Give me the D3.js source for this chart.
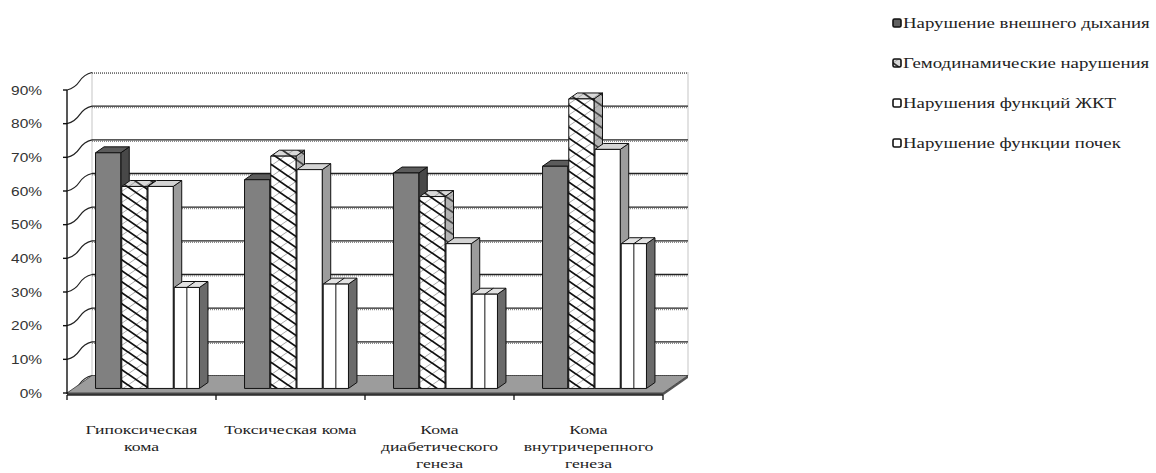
<!DOCTYPE html>
<html>
<head>
<meta charset="utf-8">
<script src="https://cdn.jsdelivr.net/npm/d3@7"></script>
<style>
  body { margin: 0; background: #fff; }
  svg { display: block; }
</style>
</head>
<body>
<svg id="chart" width="1156" height="473"></svg>
<script>
// ---- data ----
const categories = ["hypoxic", "toxic", "diabetic", "intracranial"];
const categoryLines = [
  ["Гипоксическая", "кома"],
  ["Токсическая кома"],
  ["Кома", "диабетического", "генеза"],
  ["Кома", "внутричерепного", "генеза"]
];
const seriesNames = [
  "Нарушение внешнего дыхания",
  "Гемодинамические нарушения",
  "Нарушения функций ЖКТ",
  "Нарушение функции почек"
];
const breathing   = [70, 62, 64, 66];
const hemodynamic = [60, 69, 57, 86];
const digestive   = [60, 65, 43, 71];
const renal       = [30, 31, 28, 43];
const tickValues  = [0, 10, 20, 30, 40, 50, 60, 70, 80, 90];
const tickLabels  = ["0%", "10%", "20%", "30%", "40%", "50%", "60%", "70%", "80%", "90%"];

const seriesValues = [breathing, hemodynamic, digestive, renal];

// ---- layout ----
const svg = d3.select("#chart");
const X0 = 67, X1 = 663, Y0 = 393, YTOP = 90;
const DX = 25, DY = -17.5;          // depth of the plot box
const F1 = 0.26, F2 = 0.60;         // bar front / back depth fractions
const serif = "'Liberation Serif', 'DejaVu Serif', serif";
const sans = "'Liberation Sans', 'DejaVu Sans', sans-serif";

const x = d3.scaleBand().domain(categories).range([X0, X1]);
const xs = d3.scaleBand().domain(d3.range(seriesNames.length))
  .range([0, x.bandwidth()]).paddingInner(0).paddingOuter(0.84);
const y = d3.scaleLinear().domain([0, 90]).range([Y0, YTOP]);

const P = (px, v, d) => [px + d * DX, y(v) + d * DY];
const poly = pts => pts.map(p => p.join(",")).join(" ");

// horizontal stretch so that a sample string spans the given width
function stretchFor(sample, family, size, width) {
  const t = svg.append("text").style("font-family", family).attr("font-size", size).text(sample);
  const w = t.node().getComputedTextLength();
  t.remove();
  return width / w;
}
const sansStretch = stretchFor("90%", sans, 12, 31);
const catStretch = stretchFor("Гипоксическая", serif, 13, 112);
const legendStretch = stretchFor("Нарушение внешнего дыхания", serif, 14, 247);

// ---- patterns ----
const defs = svg.append("defs");
function hatch(id, bg, main, thin) {
  const w = 16, h = 11, e = h * 3 / 16;
  const p = defs.append("pattern").attr("id", id)
    .attr("patternUnits", "userSpaceOnUse").attr("width", w).attr("height", h);
  p.append("rect").attr("width", w).attr("height", h).attr("fill", bg);
  p.append("path").attr("d", `M0,${h} L${w},0 M-3,${e} L3,${-e} M${w - 3},${h + e} L${w + 3},${h - e}`)
    .attr("stroke", thin).attr("stroke-width", 0.7);
  p.append("path").attr("d", `M0,0 L${w},${h} M-3,${h - e} L3,${h + e} M${w - 3},${-e} L${w + 3},${e}`)
    .attr("stroke", main).attr("stroke-width", 1.8);
}
hatch("hatchFront", "#ffffff", "#111", "#888");
hatch("hatchTop", "#d9d9d9", "#333", "#888");
hatch("hatchSide", "#b4b4b4", "#444", "#888");

const faceStyles = [
  { front: "#808080", top: "#5c5c5c", side: "#484848" },
  { front: "url(#hatchFront)", top: "url(#hatchTop)", side: "url(#hatchSide)" },
  { front: "#ffffff", top: "#d4d4d4", side: "#9c9c9c" },
  { front: "#ffffff", top: "#e2e2e2", side: "#6a6a6a" }
];

// ---- back wall ----
const wall = svg.append("g");
wall.append("polygon")
  .attr("points", poly([P(X0, 0, 1), P(X1, 0, 1), P(X1, 90, 1), P(X0, 90, 1)]))
  .attr("fill", "#fff").attr("stroke", "#8a8a8a").attr("stroke-width", 1)
  .attr("stroke-dasharray", "1,1");

// gridlines on the back wall
tickValues.filter(t => t > 0 && t < 90).forEach(t => {
  const a = P(X0, t, 1), b = P(X1, t, 1);
  wall.append("line").attr("x1", a[0]).attr("y1", a[1] + 1.5).attr("x2", b[0]).attr("y2", b[1] + 1.5)
    .attr("stroke", "#8a8a8a").attr("stroke-width", 1.2).attr("stroke-dasharray", "1,1");
  wall.append("line").attr("x1", a[0]).attr("y1", a[1]).attr("x2", b[0]).attr("y2", b[1])
    .attr("stroke", "#222").attr("stroke-width", 1.3);
});
{
  const a = P(X0, 90, 1), b = P(X1, 90, 1);
  wall.append("line").attr("x1", a[0]).attr("y1", a[1] + 1).attr("x2", b[0]).attr("y2", b[1] + 1)
    .attr("stroke", "#777").attr("stroke-width", 1.2).attr("stroke-dasharray", "1,1");
}

// side-wall depth lines from each axis tick
tickValues.forEach(t => {
  const a = P(X0, t, 0), b = P(X0, t, 1);
  wall.append("path")
    .attr("d", `M${a[0]},${a[1]} Q${a[0] + 8},${a[1] - 2} ${(a[0] + b[0]) / 2},${(a[1] + b[1]) / 2} T${b[0]},${b[1]}`)
    .attr("fill", "none").attr("stroke", "#222").attr("stroke-width", 1.2);
});

// ---- floor ----
const floor = svg.append("g");
floor.append("polygon")
  .attr("points", poly([P(X0, 0, 0), P(X1, 0, 0), [P(X1, 0, 0)[0], Y0 + 2.5], [X0, Y0 + 2.5]]))
  .attr("fill", "#555");
floor.append("polygon")
  .attr("points", poly([P(X1, 0, 0), P(X1, 0, 1), [P(X1, 0, 1)[0], P(X1, 0, 1)[1] + 2.5], [P(X1, 0, 0)[0], Y0 + 2.5]]))
  .attr("fill", "#555");
floor.append("polygon")
  .attr("points", poly([P(X0, 0, 0), P(X1, 0, 0), P(X1, 0, 1), P(X0, 0, 1)]))
  .attr("fill", "#9c9c9c").attr("stroke", "#333").attr("stroke-width", 0.8);

// ---- axes ----
const axes = svg.append("g").attr("stroke", "#111");
axes.append("line").attr("x1", X0).attr("y1", y(0) + 1).attr("x2", X0).attr("y2", y(90))
  .attr("stroke-width", 1.4);
tickValues.forEach(t => {
  axes.append("line").attr("x1", X0 - 4).attr("y1", y(t)).attr("x2", X0).attr("y2", y(t))
    .attr("stroke-width", 1.4);
});
axes.append("line").attr("x1", X0).attr("y1", Y0 + 2).attr("x2", X1).attr("y2", Y0 + 2)
  .attr("stroke-width", 1.2);
[...categories.map(c => x(c)), X1].forEach(px => {
  axes.append("line").attr("x1", px).attr("y1", Y0 + 2).attr("x2", px).attr("y2", Y0 + 7)
    .attr("stroke-width", 1.3);
});

svg.append("g").selectAll("text").data(tickValues).join("text")
  .attr("transform", t => `translate(42,${y(t) + 4.5}) scale(${sansStretch},1)`)
  .attr("text-anchor", "end")
  .style("font-family", sans)
  .attr("font-size", 12).attr("fill", "#333")
  .text((t, i) => tickLabels[i]);

// ---- bars (drawn left to right so nearer faces overlap) ----
const bars = svg.append("g").attr("stroke", "#111").attr("stroke-width", 1).attr("stroke-linejoin", "round");
categories.forEach((c, i) => {
  seriesValues.forEach((vals, j) => {
    const v = vals[i];
    const xl = x(c) + xs(j), xr = xl + xs.bandwidth() - 1;
    const st = faceStyles[j];
    const g = bars.append("g");
    g.append("polygon").attr("fill", st.side)
      .attr("points", poly([P(xr, 0, F1), P(xr, 0, F2), P(xr, v, F2), P(xr, v, F1)]));
    g.append("polygon").attr("fill", st.top)
      .attr("points", poly([P(xl, v, F1), P(xr, v, F1), P(xr, v, F2), P(xl, v, F2)]));
    g.append("polygon").attr("fill", st.front)
      .attr("points", poly([P(xl, 0, F1), P(xr, 0, F1), P(xr, v, F1), P(xl, v, F1)]));
    if (j === 3) {
      const xm = (xl + xr) / 2;
      const a = P(xm, 0, F1), b = P(xm, v, F1), c2 = P(xm, v, F2);
      g.append("line").attr("x1", a[0]).attr("y1", a[1]).attr("x2", b[0]).attr("y2", b[1]);
      g.append("line").attr("x1", b[0]).attr("y1", b[1]).attr("x2", c2[0]).attr("y2", c2[1]);
    }
  });
});

// ---- category labels ----
const catG = svg.append("g").style("font-family", serif).attr("font-size", 13).attr("fill", "#222");
categories.forEach((c, i) => {
  categoryLines[i].forEach((line, k) => {
    catG.append("text")
      .attr("transform", `translate(${x(c) + x.bandwidth() / 2},${Y0 + 41 + k * 17}) scale(${catStretch},1)`)
      .attr("text-anchor", "middle").text(line);
  });
});

// ---- legend ----
const legend = svg.append("g").attr("transform", "translate(893,23)");
seriesNames.forEach((name, j) => {
  const g = legend.append("g").attr("transform", `translate(0,${j * 40})`);
  const fills = ["#606060", "url(#hatchTop)", "#fff", "#fff"];
  g.append("rect").attr("x", 0).attr("y", -4).attr("width", 8).attr("height", 8)
    .attr("rx", 1.5).attr("fill", fills[j]).attr("stroke", "#111").attr("stroke-width", 1.6);
  g.append("text")
    .attr("transform", `translate(10,4.5) scale(${legendStretch},1)`)
    .style("font-family", serif).attr("font-size", 14).attr("fill", "#222")
    .text(name);
});
</script>
</body>
</html>
